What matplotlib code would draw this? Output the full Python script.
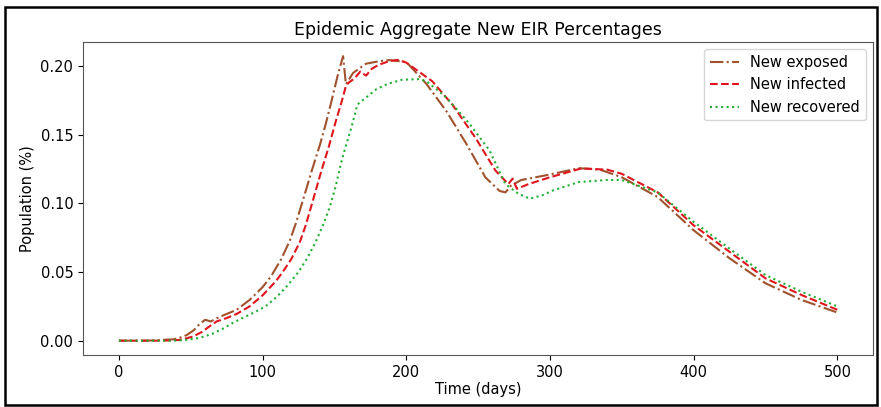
import matplotlib
matplotlib.use("Agg")
import matplotlib.pyplot as plt
from matplotlib.patches import Rectangle

# values
t_exposed = [0, 20, 38, 42, 47, 52, 56, 60, 64, 70, 82, 91, 100, 106, 113, 119, 123, 128,
             134, 140, 144, 148, 152, 156, 158, 163, 172, 181, 188, 200, 214, 228, 242,
             255, 265, 269, 273, 280, 290, 300, 320, 335, 350, 375, 400, 425, 450, 475, 500]
new_exposed = [0, 0, 0.001, 0.002, 0.004, 0.0075, 0.012, 0.0152, 0.014, 0.0173, 0.0225,
               0.0297, 0.039, 0.047, 0.0595, 0.073, 0.085, 0.102, 0.123, 0.143, 0.158,
               0.1746, 0.192, 0.2072, 0.1867, 0.195, 0.2017, 0.2035, 0.2043, 0.203, 0.187,
               0.167, 0.143, 0.119, 0.109, 0.108, 0.113, 0.117, 0.119, 0.121, 0.1256,
               0.1245, 0.119, 0.1046, 0.0804, 0.060, 0.0418, 0.0297, 0.0205]

t_infected = [0, 30, 42, 48, 52, 58, 63, 68, 75, 82, 91, 100, 109, 114, 120, 126, 130, 135,
              141, 146, 151, 155, 158, 160, 164, 168, 172, 176, 181, 188, 194, 200, 218,
              232, 248, 262, 271, 274, 277, 285, 300, 322, 340, 350, 375, 400, 425, 450,
              475, 500]
new_infected = [0, 0, 0.0005, 0.002, 0.0032, 0.0065, 0.0104, 0.014, 0.0165, 0.0195, 0.025,
                0.033, 0.043, 0.050, 0.0595, 0.072, 0.084, 0.102, 0.124, 0.141, 0.160,
                0.174, 0.1855, 0.188, 0.191, 0.196, 0.193, 0.198, 0.201, 0.2035, 0.2045,
                0.2025, 0.189, 0.172, 0.148, 0.124, 0.114, 0.118, 0.1106, 0.114, 0.119,
                0.1255, 0.1245, 0.1215, 0.108, 0.084, 0.0647, 0.0454, 0.0333, 0.0225]

t_recovered = [0, 35, 45, 56, 65, 72, 79, 87, 95, 102, 110, 118, 125, 131, 137, 142, 147,
               151, 155, 158, 162, 166, 172, 179, 187, 197, 209, 214, 228, 244, 258, 269,
               278, 286, 295, 302, 320, 339, 350, 375, 400, 425, 450, 475, 500]
new_recovered = [0, 0, 0.0003, 0.002, 0.005, 0.0085, 0.0128, 0.017, 0.021, 0.025, 0.032,
                 0.041, 0.050, 0.060, 0.072, 0.084, 0.098, 0.113, 0.131, 0.142, 0.156,
                 0.172, 0.177, 0.183, 0.187, 0.190, 0.1905, 0.189, 0.177, 0.158, 0.1384,
                 0.114, 0.107, 0.1034, 0.106, 0.1094, 0.1155, 0.117, 0.117, 0.108, 0.0865,
                 0.067, 0.0478, 0.0357, 0.025]

fig = plt.figure(figsize=(8.81, 4.07), dpi=100)
ax = fig.add_axes([0.0942, 0.128, 0.897, 0.769])

ax.plot(t_exposed, new_exposed, "-.", color="#a0522d", lw=1.5, label="New exposed")
ax.plot(t_infected, new_infected, "--", color="#e0161e", lw=1.5, label="New infected")
ax.plot(t_recovered, new_recovered, ":", color="#22b033", lw=1.5, label="New recovered")

ax.set_xticks([0, 100, 200, 300, 400, 500])
ax.set_yticks([0.0, 0.05, 0.10, 0.15, 0.20])
ax.tick_params(labelsize=10.5)
ax.set_xlabel("Time (days)", fontsize=10.5, labelpad=2)
ax.set_ylabel("Population (%)", fontsize=10.5)
ax.set_title("Epidemic Aggregate New EIR Percentages", fontsize=12.5, pad=5)
for s in ax.spines.values():
    s.set_color("#555555")
ax.legend(loc="upper right", fontsize=10.5)

# black frame around the whole picture
fig.patches.append(Rectangle((0.006, 0.005), 0.989, 0.978, transform=fig.transFigure,
                             fill=False, edgecolor="black", lw=1.8))

fig.savefig("out.png", dpi=100)
